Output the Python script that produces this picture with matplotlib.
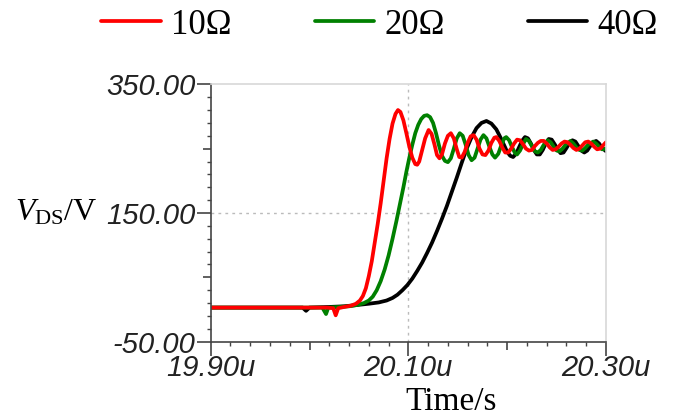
import matplotlib
matplotlib.use("Agg")
import matplotlib.pyplot as plt
from matplotlib.ticker import FixedLocator, FuncFormatter

plt.rcParams['mathtext.fontset'] = 'custom'
plt.rcParams['mathtext.rm'] = 'Liberation Serif'
plt.rcParams['mathtext.it'] = 'Liberation Serif:italic'

# drain-source voltage waveforms, time in us, voltage in V
t_10 = [19.900, 20.018, 20.024, 20.0265, 20.029, 20.035, 20.042, 20.047, 20.051, 20.054,
        20.057, 20.060, 20.063, 20.066, 20.069, 20.072, 20.075, 20.078, 20.081, 20.084,
        20.087, 20.0895, 20.092, 20.095, 20.098, 20.101, 20.104, 20.107, 20.109, 20.111,
        20.114, 20.117, 20.1205, 20.1235, 20.1265, 20.129, 20.1315, 20.134, 20.137, 20.140,
        20.143, 20.146, 20.149, 20.1515, 20.154, 20.157, 20.160, 20.163, 20.166, 20.169,
        20.172, 20.175, 20.178, 20.181, 20.184, 20.187, 20.189, 20.192, 20.195, 20.198,
        20.201, 20.204, 20.207, 20.210, 20.213, 20.216, 20.219, 20.222, 20.225, 20.228,
        20.231, 20.234, 20.237, 20.240, 20.243, 20.246, 20.249, 20.252, 20.255, 20.258,
        20.261, 20.264, 20.267, 20.270, 20.273, 20.276, 20.279, 20.282, 20.285, 20.288,
        20.291, 20.294, 20.297, 20.300]
v_10 = [3, 3, 2, -9, 2, 4, 6, 9, 14, 21,
        33, 52, 75, 104, 133, 165, 200, 235, 265, 289,
        304, 310, 307, 294, 274, 253, 236, 226, 225, 230,
        248, 266, 279, 273, 256, 240, 235, 241, 258, 270,
        274, 266, 249, 237, 236, 245, 259, 269, 271, 264,
        250, 241, 240, 247, 259, 267, 268, 262, 252, 244,
        244, 250, 258, 264, 263, 257, 250, 247, 248, 254,
        259, 262, 262, 258, 252, 248, 249, 253, 258, 261,
        260, 256, 251, 248, 250, 255, 260, 261, 258, 253,
        249, 250, 255, 260]

t_20 = [19.900, 20.013, 20.0167, 20.019, 20.030, 20.040, 20.048, 20.055, 20.060, 20.064,
        20.068, 20.072, 20.076, 20.080, 20.084, 20.088, 20.0915, 20.095, 20.098, 20.101,
        20.104, 20.107, 20.110, 20.113, 20.116, 20.119, 20.122, 20.125, 20.128, 20.131,
        20.134, 20.137, 20.140, 20.143, 20.146, 20.149, 20.152, 20.155, 20.158, 20.161,
        20.164, 20.167, 20.170, 20.173, 20.176, 20.179, 20.182, 20.185, 20.1877, 20.191,
        20.194, 20.197, 20.199, 20.202, 20.205, 20.208, 20.210, 20.213, 20.216, 20.219,
        20.222, 20.225, 20.228, 20.231, 20.234, 20.237, 20.241, 20.244, 20.247, 20.250,
        20.253, 20.256, 20.259, 20.264, 20.267, 20.270, 20.273, 20.276, 20.279, 20.282,
        20.287, 20.290, 20.293, 20.296, 20.300]
v_20 = [3, 3, -7, 3, 4, 5, 7, 10, 14, 20,
        30, 44, 62, 84, 110, 138, 164, 190, 214, 236,
        256, 274, 287, 296, 301, 302, 299, 290, 274, 255,
        239, 231, 229, 235, 250, 266, 274, 270, 256, 240,
        232, 236, 250, 264, 271, 266, 253, 241, 236, 242,
        255, 266, 268, 263, 252, 243, 241, 247, 257, 265,
        262, 254, 246, 244, 248, 256, 263, 260, 253, 247,
        246, 250, 256, 262, 258, 252, 248, 247, 251, 256,
        261, 258, 253, 249, 250]

t_40 = [19.900, 19.993, 19.9965, 20.000, 20.020, 20.035, 20.048, 20.060, 20.070, 20.078,
        20.084, 20.089, 20.094, 20.099, 20.104, 20.109, 20.114, 20.119, 20.124, 20.129,
        20.134, 20.139, 20.144, 20.149, 20.154, 20.159, 20.164, 20.169, 20.174, 20.179,
        20.184, 20.189, 20.193, 20.197, 20.200, 20.203, 20.206, 20.209, 20.212, 20.215,
        20.218, 20.221, 20.224, 20.227, 20.230, 20.233, 20.236, 20.239, 20.242, 20.245,
        20.248, 20.251, 20.254, 20.257, 20.260, 20.263, 20.266, 20.269, 20.272, 20.275,
        20.278, 20.281, 20.284, 20.287, 20.290, 20.293, 20.296, 20.300]
v_40 = [3, 3, -2, 3, 4, 5, 7, 9, 11, 14,
        18, 23, 30, 38, 48, 60, 73, 88, 104, 122,
        141, 161, 183, 205, 228, 250, 268, 282, 290, 293,
        289, 280, 268, 255, 245, 239, 237, 242, 252, 262,
        268, 266, 258, 248, 241, 241, 248, 258, 265, 264,
        257, 249, 243, 244, 251, 259, 263, 261, 254, 247,
        244, 247, 254, 260, 262, 258, 251, 246]

labels = ['10Ω', '20Ω', '40Ω']
colors = ['#ff0000', '#008000', '#000000']

x_ticks = [19.90, 20.00, 20.10, 20.20, 20.30]
x_labeled = [19.90, 20.10, 20.30]
y_ticks = [-50, 50, 150, 250, 350]
y_labeled = [-50, 150, 350]

fig = plt.figure(figsize=(6.84, 4.19), dpi=100)
ax = fig.add_axes([0.308, 0.1845, 0.578, 0.6143])

h40, = ax.plot(t_40, v_40, color=colors[2], lw=2.7, solid_capstyle='round', solid_joinstyle='round')
h20, = ax.plot(t_20, v_20, color=colors[1], lw=2.7, solid_capstyle='round', solid_joinstyle='round')
h10, = ax.plot(t_10, v_10, color=colors[0], lw=2.7, solid_capstyle='round', solid_joinstyle='round')

ax.set_xlim(19.90, 20.30)
ax.set_ylim(-50, 350)

# dotted guide lines through the middle labels
ax.axvline(x_labeled[1], color='#bbbbbb', lw=1, ls=(0, (2, 3)), zorder=0)
ax.axhline(y_labeled[1], color='#bbbbbb', lw=1, ls=(0, (2, 3)), zorder=0)

for side in ['top', 'right']:
    ax.spines[side].set_color('#d8d8d8')
    ax.spines[side].set_linewidth(1.2)
for side in ['left', 'bottom']:
    ax.spines[side].set_color('#444444')
    ax.spines[side].set_linewidth(1.2)

ax.xaxis.set_major_locator(FixedLocator(x_ticks))
ax.xaxis.set_minor_locator(FixedLocator([19.90 + 0.02 * i for i in range(21)]))
ax.xaxis.set_major_formatter(FuncFormatter(
    lambda v, p: f'{v:.2f}u' if any(abs(v - k) < 1e-6 for k in x_labeled) else ''))
ax.yaxis.set_major_locator(FixedLocator(y_ticks))
ax.yaxis.set_minor_locator(FixedLocator([-50 + 20 * i for i in range(21)]))
ax.yaxis.set_major_formatter(FuncFormatter(
    lambda v, p: f'{v:.2f}' if any(abs(v - k) < 1e-6 for k in y_labeled) else ''))

ax.tick_params(which='major', direction='out', length=6, width=1.2, color='#444444')
ax.tick_params(axis='y', which='major', pad=5)
ax.tick_params(axis='x', which='major', pad=3)
ax.tick_params(which='minor', direction='out', length=3, width=1, color='#444444')
for lab in ax.get_xticklabels() + ax.get_yticklabels():
    lab.set_fontfamily('Liberation Sans')
    lab.set_fontstyle('italic')
    lab.set_fontsize(21)
    lab.set_color('#222222')

# labelled ticks are longer than the half-way ones
for tk in ax.xaxis.get_major_ticks():
    if any(abs(tk.get_loc() - k) < 1e-6 for k in x_labeled):
        tk.tick1line.set_markersize(10)
for tk in ax.yaxis.get_major_ticks():
    if any(abs(tk.get_loc() - k) < 1e-6 for k in y_labeled):
        tk.tick1line.set_markersize(10)

fig.text(0.022, 0.492, r'$V_{\mathrm{DS}}$/V', fontfamily='Liberation Serif',
         fontsize=23, va='center', ha='left')
fig.text(0.66, 0.022, 'Time/s', fontfamily='Liberation Serif', fontsize=24,
         va='baseline', ha='center')

fig.legend([h10, h20, h40], labels, ncol=3, loc='center', bbox_to_anchor=(0.555, 0.94),
           frameon=False, prop={'family': 'Liberation Serif', 'size': 25},
           handlelength=1.7, handletextpad=0.3, columnspacing=2.4)

fig.savefig('out.png', dpi=100)
